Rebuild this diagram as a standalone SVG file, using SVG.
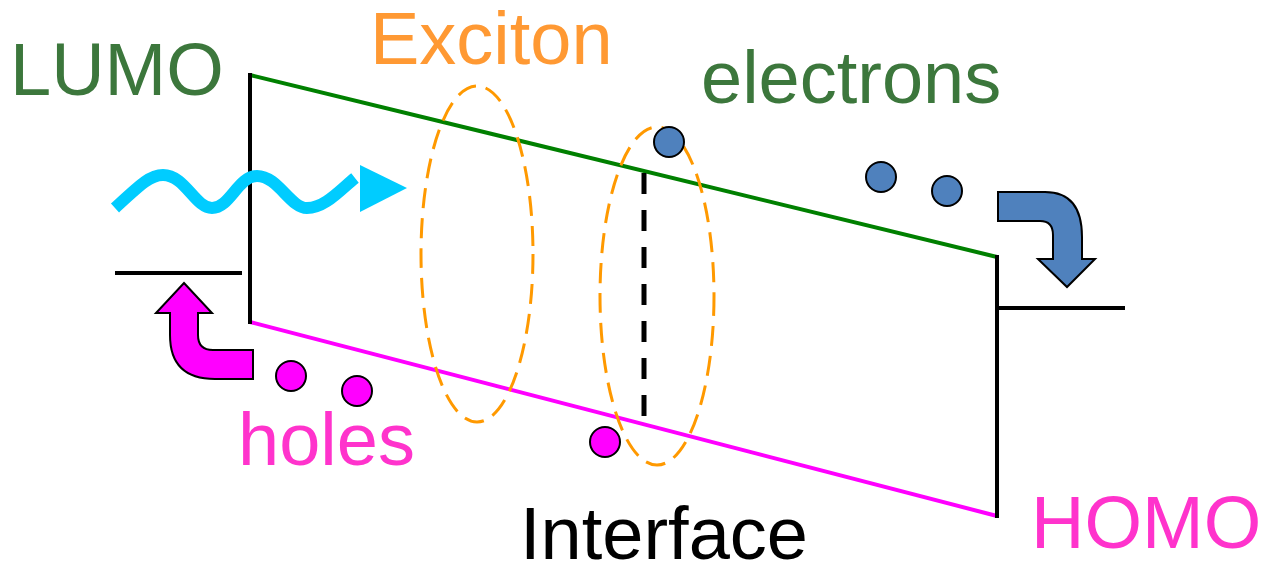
<svg xmlns="http://www.w3.org/2000/svg" width="1262" height="564" viewBox="0 0 1262 564">
<style>
.t{font-family:"Liberation Sans",Arial,sans-serif;font-size:74px}
.blk{stroke:#000;stroke-width:4;fill:none}
.exc{fill:none;stroke:#FF9900;stroke-width:3;stroke-dasharray:20 10}
.e{fill:#4F81BD;stroke:#000;stroke-width:2}
.h{fill:#FF00FF;stroke:#000;stroke-width:2}
</style>
<rect width="1262" height="564" fill="#fff"/>
<g id="bands">
<line x1="250" y1="75" x2="997" y2="257" stroke="#008000" stroke-width="4"/>
<line x1="250" y1="322" x2="997" y2="516" stroke="#FF00FF" stroke-width="4"/>
<line class="blk" x1="250" y1="73" x2="250" y2="324"/>
<line class="blk" x1="997" y1="255" x2="997" y2="518"/>
<line class="blk" x1="115" y1="273" x2="242" y2="273"/>
<line class="blk" x1="997" y1="308" x2="1125" y2="308"/>
</g>
<g id="light">
<path d="M115,208 C140,185 150,175 163,175 C185,175 195,208 212,208 C230,208 238,176 257,176 C278,176 290,208 307,208 C325,208 340,190 355,178" fill="none" stroke="#00CCFF" stroke-width="12"/>
<polygon points="360,165 360,212 407,188" fill="#00CCFF"/>
</g>
<g id="interface">
<line x1="644" y1="173" x2="644" y2="419" stroke="#000" stroke-width="5" stroke-dasharray="21 16"/>
</g>
<g id="excitons">
<ellipse class="exc" cx="477" cy="254" rx="56" ry="168"/>
<ellipse class="exc" cx="657" cy="296" rx="57" ry="169"/>
</g>
<g id="electrons">
<circle class="e" cx="669" cy="142" r="15"/>
<circle class="e" cx="881" cy="177" r="15"/>
<circle class="e" cx="947" cy="191" r="15"/>
</g>
<g id="holes">
<circle class="h" cx="291" cy="376" r="15"/>
<circle class="h" cx="357" cy="391" r="15"/>
<circle class="h" cx="605" cy="442" r="15"/>
</g>
<g id="arrows">
<path d="M184,283 L212,313 L198,313 L198,335 Q198,350 213,350 L253,350 L253,379 L215,379 Q170,379 170,335 L170,313 L156,313 Z" fill="#FF00FF" stroke="#000" stroke-width="2"/>
<path d="M998,192 L1045,192 Q1082,192 1082,237 L1082,259 L1095,259 L1067,287 L1038,259 L1053,259 L1053,235 Q1053,221 1040,221 L998,221 Z" fill="#4F81BD" stroke="#000" stroke-width="2"/>
</g>
<g id="labels">
<text class="t" x="10" y="95" fill="#3C773C">LUMO</text>
<text class="t" x="370" y="64" fill="#FF9933">Exciton</text>
<text class="t" x="701" y="103" fill="#3C773C">electrons</text>
<text class="t" x="238" y="465" fill="#FF33CC">holes</text>
<text class="t" x="520" y="559" fill="#000">Interface</text>
<text class="t" x="1031" y="548" fill="#FF33CC">HOMO</text>
</g>
</svg>
